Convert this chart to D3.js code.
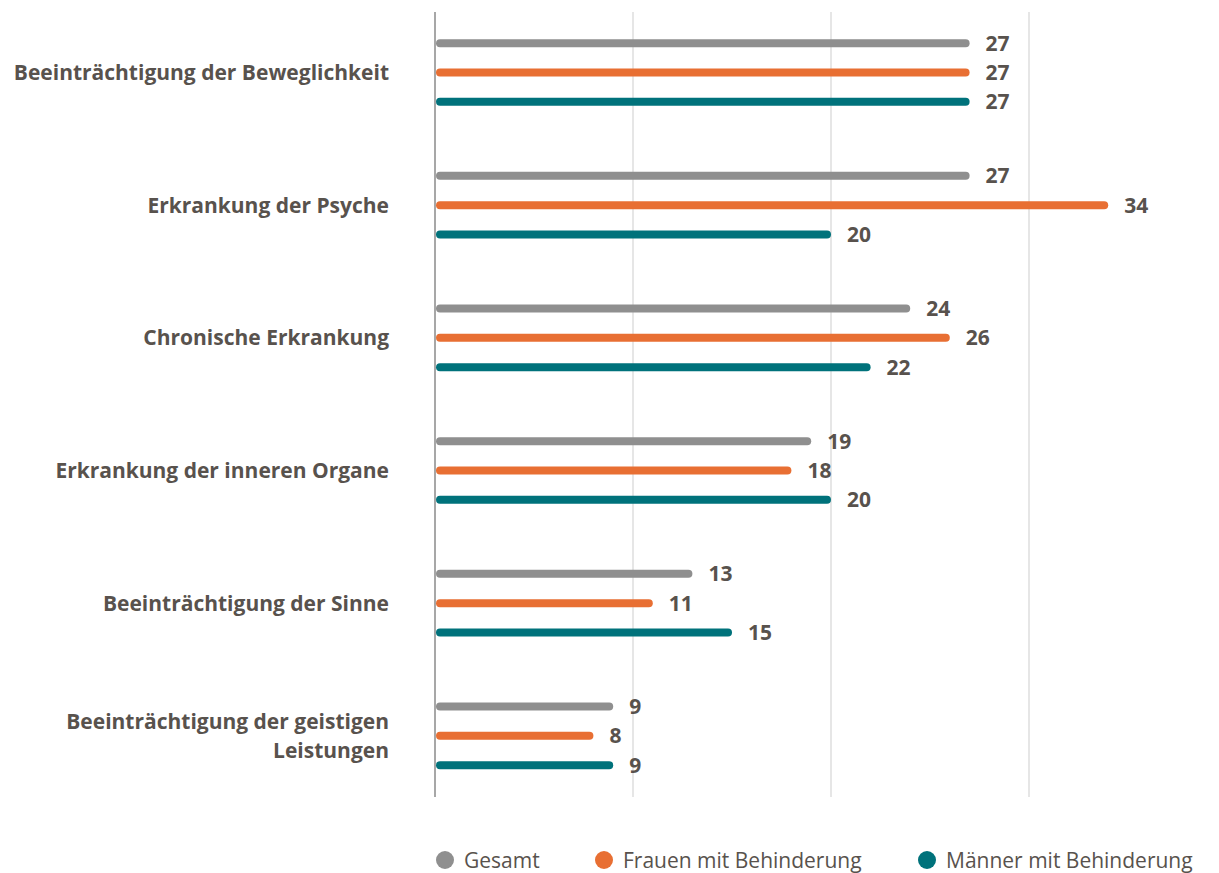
<!DOCTYPE html>
<html>
<head>
<meta charset="utf-8">
<script src="https://cdn.jsdelivr.net/npm/d3@7"></script>
<style>
  body { margin: 0; background: #fff; }
  text { font-family: 'Open Sans', sans-serif; fill: #58524d; }
</style>
</head>
<body>
<div id="chart"></div>
<script>
const categories = [
  ['Beeinträchtigung der Beweglichkeit'],
  ['Erkrankung der Psyche'],
  ['Chronische Erkrankung'],
  ['Erkrankung der inneren Organe'],
  ['Beeinträchtigung der Sinne'],
  ['Beeinträchtigung der geistigen', 'Leistungen']
]
const seriesNames = ['Gesamt', 'Frauen mit Behinderung', 'Männer mit Behinderung']
const gesamt = [27, 27, 24, 19, 13, 9]
const frauen = [27, 34, 26, 18, 11, 8]
const maenner = [27, 20, 22, 20, 15, 9]
const xTicks = [0, 10, 20, 30]
const colors = ['#8f8f8f', '#e86f33', '#00727b']

const w = 1219
const h = 873
const series = [gesamt, frauen, maenner]

const svg = d3.select('#chart')
  .append('svg')
  .attr('width', w)
  .attr('height', h)

const xScale = d3.scaleLinear()
  .domain([0, 30])
  .range([435, 1029])

const y0 = d3.scaleBand()
  .domain(d3.range(categories.length))
  .range([12, 808])

const y1 = d3.scaleBand()
  .domain(d3.range(series.length))
  .range([16.5, 104.5])

// gridlines
svg.selectAll('line.grid')
  .data(xTicks)
  .enter()
  .append('line')
  .attr('x1', d => xScale(d))
  .attr('x2', d => xScale(d))
  .attr('y1', 12)
  .attr('y2', 797)
  .attr('stroke', d => d === 0 ? '#8a8a8a' : '#d6d6d6')
  .attr('stroke-width', d => d === 0 ? 1.5 : 1.2)

const groups = svg.selectAll('g.cat')
  .data(categories)
  .enter()
  .append('g')
  .attr('transform', (d, i) => 'translate(0,' + y0(i) + ')')

groups.each(function (cat, i) {
  const g = d3.select(this)
  series.forEach((s, j) => {
    const cy = y1(j) + y1.bandwidth() / 2
    g.append('rect')
      .attr('x', xScale(0) + 1)
      .attr('y', cy - 4)
      .attr('width', xScale(s[i]) - xScale(0) - 1)
      .attr('height', 8)
      .attr('rx', 4)
      .attr('fill', colors[j])
    g.append('text')
      .attr('x', xScale(s[i]) + 16)
      .attr('y', cy)
      .attr('dy', '0.36em')
      .attr('font-size', 21)
      .attr('font-weight', 700)
      .text(s[i])
  })
  const mid = y1(1) + y1.bandwidth() / 2
  const t = g.append('text')
    .attr('x', 389)
    .attr('text-anchor', 'end')
    .attr('font-size', 21)
    .attr('font-weight', 700)
  cat.forEach((line, k) => {
    t.append('tspan')
      .attr('x', 389)
      .attr('y', mid + (k - (cat.length - 1) / 2) * 29)
      .attr('dy', '0.36em')
      .text(line)
  })
})

// legend
const legendX = [445, 604, 927]
const legend = svg.selectAll('g.legend')
  .data(seriesNames)
  .enter()
  .append('g')
  .attr('transform', (d, i) => 'translate(' + legendX[i] + ',860)')

legend.append('circle')
  .attr('r', 9)
  .attr('fill', (d, i) => colors[i])

legend.append('text')
  .attr('x', 19)
  .attr('dy', '0.36em')
  .attr('font-size', 21)
  .text(d => d)
</script>
</body>
</html>
